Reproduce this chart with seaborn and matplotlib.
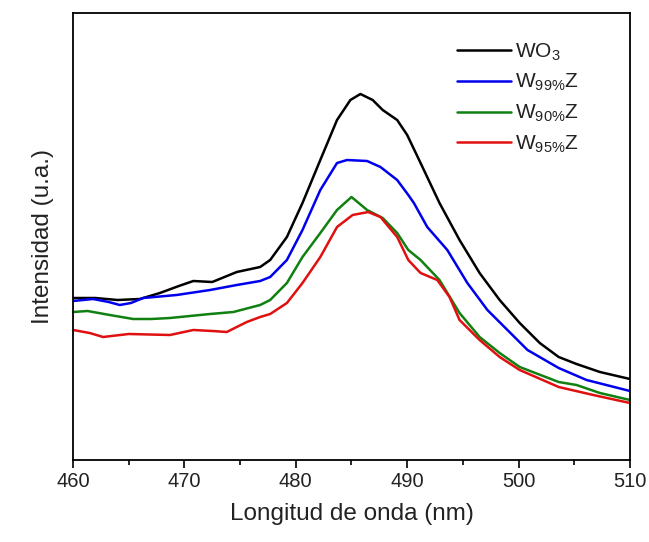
import matplotlib
matplotlib.use("Agg")
import matplotlib.pyplot as plt
import seaborn as sns
import pandas as pd
from matplotlib.ticker import MultipleLocator

sns.set_theme(style="white")
plt.rcParams['font.family'] = ['Liberation Sans', 'DejaVu Sans']
plt.rcParams['mathtext.fontset'] = 'custom'
plt.rcParams['mathtext.rm'] = 'Liberation Sans'
plt.rcParams['mathtext.it'] = 'Liberation Sans:italic'
plt.rcParams['mathtext.default'] = 'regular'

labels = ["WO$_3$", "W$_{99\\%}$Z", "W$_{90\\%}$Z", "W$_{95\\%}$Z"]
colors = ["#000000", "#0000ee", "#108010", "#e01010"]

wo3_x = [460, 462, 464, 466, 467.8, 469.5, 470.8, 472.5, 474.7, 476.8, 477.7, 479.2, 480.6,
         482.2, 483.7, 484.9, 485.8, 486.9, 487.8, 489.1, 490, 491.2, 492.9, 494.7, 496.5,
         498.3, 500.1, 501.9, 503.6, 505.2, 507.3, 510]
wo3_y = [162, 162, 160, 161, 167, 174, 179, 178, 188, 193, 200, 223, 257,
         300, 340, 360, 366, 360, 350, 340, 325, 297, 257, 220, 187,
         160, 137, 117, 103, 96, 88, 81]

w99_x = [460, 461.8, 463.2, 464.2, 465.2, 466.3, 469.3, 472.3, 474.7, 476.8, 477.7, 479.2,
         480.6, 482.2, 483.7, 484.6, 486.4, 487.6, 489.1, 490.1, 490.6, 491.8, 493.6, 495.4,
         497.2, 499, 500.8, 503.6, 506.1, 510]
w99_y = [159, 161, 158, 155, 157, 162, 165, 170, 175, 179, 183, 200,
         230, 270, 297, 300, 299, 293, 280, 265, 257, 233, 210, 177,
         150, 130, 110, 92, 80, 69]

w90_x = [460, 461.3, 463.3, 465.4, 467, 468.7, 470.5, 472.3, 474.4, 476.8, 477.7, 479.2,
         480.6, 482.2, 483.7, 485, 486.4, 487.8, 489.1, 490.1, 491.2, 492.9, 494.7, 496.5,
         498.3, 500.1, 503.6, 505.2, 507.3, 510]
w90_y = [148, 149, 145, 141, 141, 142, 144, 146, 148, 155, 160, 177,
         203, 227, 250, 263, 250, 242, 227, 210, 200, 180, 147, 123,
         107, 93, 78, 75, 67, 60]

w95_x = [460, 461.5, 462.7, 465, 468.7, 470.8, 472.5, 473.8, 475.6, 476.8, 477.7, 479.2,
         480.6, 482.2, 483.7, 485.1, 486.5, 487.6, 489.1, 490.1, 491.2, 492.7, 493.8, 494.7,
         496.5, 498.3, 500.1, 503.6, 506.7, 510]
w95_y = [130, 127, 123, 126, 125, 130, 129, 128, 138, 143, 146, 157,
         177, 203, 233, 245, 248, 243, 223, 200, 187, 180, 163, 140,
         120, 103, 90, 73, 65, 57]

xs = [wo3_x, w99_x, w90_x, w95_x]
ys = [wo3_y, w99_y, w90_y, w95_y]
frames = []
for lab, x, y in zip(labels, xs, ys):
    frames.append(pd.DataFrame({"x": x, "y": y, "s": lab}))
df = pd.concat(frames, ignore_index=True)

fig = plt.figure(figsize=(6.49, 5.42), dpi=100)
ax = fig.add_axes([0.1125, 0.1513, 0.8582, 0.8247])
sns.lineplot(data=df, x="x", y="y", hue="s", hue_order=labels, palette=colors,
             linewidth=1.8, ax=ax, sort=False, estimator=None)
for ln in ax.get_lines():
    ln.set_solid_joinstyle('round')

ax.set_xlim(460, 510)
ax.set_ylim(0, 447)
ax.xaxis.set_major_locator(MultipleLocator(10))
ax.xaxis.set_minor_locator(MultipleLocator(5))
ax.set_yticks([])
ax.tick_params(axis='x', which='major', direction='out', length=6, width=1.2,
               labelsize=14.5, color='black', labelcolor='#222222', bottom=True, pad=3)
ax.tick_params(axis='x', which='minor', direction='out', length=3.5, width=1.2,
               color='black', bottom=True)
for sp in ax.spines.values():
    sp.set_color('black')
    sp.set_linewidth(1.3)
ax.set_xlabel("Longitud de onda (nm)", fontsize=17.5, color='#222222', labelpad=8)
ax.set_ylabel("Intensidad (u.a.)", fontsize=17.5, color='#222222', labelpad=14)

ax.legend(loc='upper left', bbox_to_anchor=(0.675, 0.955), frameon=False,
          fontsize=15, handlelength=2.6, handletextpad=0.15, labelspacing=0.45,
          borderaxespad=0)
for t in ax.get_legend().get_texts():
    t.set_color('#222222')

fig.savefig("out.png", dpi=100)
